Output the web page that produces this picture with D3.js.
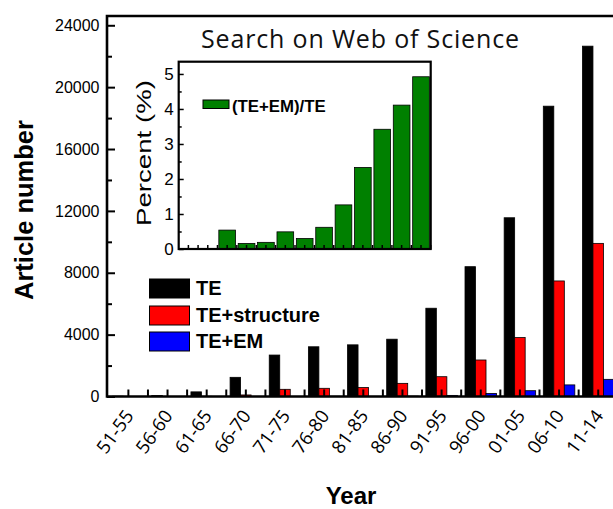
<!DOCTYPE html>
<html><head><meta charset="utf-8">
<script src="https://cdn.jsdelivr.net/npm/d3@7"></script>
<style>html,body{margin:0;padding:0;background:#fff;overflow:hidden}</style>
</head><body>
<svg id="c" width="613" height="509"></svg>
<script>
const categories = ["51-55","56-60","61-65","66-70","71-75","76-80","81-85","86-90","91-95","96-00","01-05","06-10","11-14"];
const seriesNames = ["TE","TE+structure","TE+EM"];
const seriesColors = ["#000000","#ff0000","#0000ff"];
const teValues = [20, 60, 300, 1240, 2680, 3215, 3340, 3705, 5707, 8393, 11556, 18770, 22650];
const structureValues = [0, 5, 12, 100, 465, 530, 580, 850, 1280, 2360, 3810, 7470, 9900];
const emValues = [0, 0, 0, 3, 5, 16, 10, 23, 72, 200, 375, 750, 1110];
const percentValues = [0, 0, 0.54, 0.16, 0.19, 0.49, 0.30, 0.62, 1.26, 2.33, 3.42, 4.11, 4.92];
const yTicks = [0, 4000, 8000, 12000, 16000, 20000, 24000];
const yMinorTicks = [2000, 6000, 10000, 14000, 18000, 22000];
const insetTicks = [0, 1, 2, 3, 4, 5];
const insetMinorTicks = [0.5, 1.5, 2.5, 3.5, 4.5];

const svg = d3.select("#c");
const series = [teValues, structureValues, emValues];

// ---------- main chart ----------
const L = 107, B = 396.5, T = 16, R = 617.8;
const x = d3.scaleBand().domain(categories).range([108.8, R]).paddingInner(0.195).paddingOuter(0.0977);
const xs = d3.scaleBand().domain(seriesNames).range([0, x.bandwidth()]);
const y = d3.scaleLinear().domain([0, 24600]).range([B, T]);

const groups = svg.append("g").selectAll("g").data(categories).join("g")
  .attr("transform", d => `translate(${x(d)},0)`);
groups.selectAll("rect").data((d, i) => series.map((s, k) => ({k, v: s[i]}))).join("rect")
  .attr("x", d => xs(seriesNames[d.k]))
  .attr("width", xs.bandwidth())
  .attr("y", d => y(d.v))
  .attr("height", d => B - y(d.v))
  .attr("fill", d => seriesColors[d.k])
  .attr("stroke", "#000").attr("stroke-width", 0.8);

// x ticks (centers + boundaries), inward
const xTickPos = [];
categories.forEach(c => {
  const cx = x(c) + x.bandwidth() / 2;
  xTickPos.push(cx, cx + x.step() / 2);
});
svg.append("g").selectAll("line").data(xTickPos).join("line")
  .attr("x1", d => d).attr("x2", d => d).attr("y1", B).attr("y2", B - 7)
  .attr("stroke", "#000").attr("stroke-width", 2);

// y axis
const yAxis = svg.append("g").attr("transform", `translate(${L},0)`)
  .call(d3.axisLeft(y).tickValues(yTicks).tickSizeInner(-8).tickSizeOuter(0).tickPadding(7.5).tickFormat(d3.format("d")));
yAxis.select(".domain").remove();
yAxis.selectAll(".tick line").attr("stroke-width", 2);
yAxis.selectAll("text").attr("font-family", "Liberation Sans, Arial").attr("font-size", 16).attr("fill", "#000");
const yMinor = svg.append("g").attr("transform", `translate(${L},0)`)
  .call(d3.axisLeft(y).tickValues(yMinorTicks).tickSizeInner(-5).tickSizeOuter(0).tickFormat(""));
yMinor.select(".domain").remove();
yMinor.selectAll(".tick line").attr("stroke-width", 2);

// frame
svg.append("path").attr("d", `M${R + 5},${B} H${L} V${T} H${R + 5}`)
  .attr("fill", "none").attr("stroke", "#000").attr("stroke-width", 2.6);

// x labels
svg.append("g").selectAll("text").data(categories).join("text")
  .attr("transform", d => `translate(${x(d) + x.bandwidth() / 2 + 6},${416}) rotate(-54)`)
  .attr("text-anchor", "end")
  .attr("font-family", "Open Sans, sans-serif").attr("font-size", 18.5).attr("fill", "#000")
  .text(d => d);

// axis titles
svg.append("text").attr("transform", `translate(33,210) rotate(-90)`)
  .attr("text-anchor", "middle").attr("font-family", "Liberation Sans, Arial").attr("font-weight", "bold")
  .attr("font-size", 25.5).text("Article number");
svg.append("text").attr("x", 351).attr("y", 504)
  .attr("text-anchor", "middle").attr("font-family", "Liberation Sans, Arial").attr("font-weight", "bold")
  .attr("font-size", 24).text("Year");

// legend
const leg = svg.append("g");
seriesNames.forEach((n, k) => {
  const top = [279, 306, 332][k];
  leg.append("rect").attr("x", 149.5).attr("y", top).attr("width", 40).attr("height", 19)
    .attr("fill", seriesColors[k]).attr("stroke", "#000").attr("stroke-width", 1);
  leg.append("text").attr("x", 196).attr("y", top + 16)
    .attr("font-family", "Liberation Sans, Arial").attr("font-weight", "bold").attr("font-size", 20)
    .text(n);
});

// title
svg.append("text").attr("x", 360).attr("y", 48).attr("text-anchor", "middle")
  .attr("font-family", "Open Sans, sans-serif").attr("font-size", 25).attr("fill", "#111")
  .attr("textLength", 318).attr("lengthAdjust", "spacing")
  .text("Search on Web of Science");

// ---------- inset ----------
const iL = 178.7, iR = 430.7, iB = 249, iT = 61.7;
const ix = d3.scaleBand().domain(categories).range([iL, iR]).paddingInner(0.14).paddingOuter(0.07);
const iy = d3.scaleLinear().domain([0, 5.33]).range([iB, iT + 0.7]);

svg.append("g").selectAll("rect").data(categories).join("rect")
  .attr("x", d => ix(d)).attr("width", ix.bandwidth())
  .attr("y", (d, i) => iy(percentValues[i]))
  .attr("height", (d, i) => iB - iy(percentValues[i]))
  .attr("fill", "#008000").attr("stroke", "#000").attr("stroke-width", 0.8);

const ixTicks = [];
categories.forEach(c => {
  const cx = ix(c) + ix.bandwidth() / 2;
  ixTicks.push(cx, cx + ix.step() / 2);
});
svg.append("g").selectAll("line").data(ixTicks).join("line")
  .attr("x1", d => d).attr("x2", d => d).attr("y1", iB).attr("y2", iB - 4)
  .attr("stroke", "#000").attr("stroke-width", 1.5);

const iyAxis = svg.append("g").attr("transform", `translate(${iL},0)`)
  .call(d3.axisLeft(iy).tickValues(insetTicks).tickSizeInner(-5).tickSizeOuter(0).tickPadding(5).tickFormat(d3.format("d")));
iyAxis.select(".domain").remove();
iyAxis.selectAll(".tick line").attr("stroke-width", 1.5);
iyAxis.selectAll("text").attr("font-family", "Liberation Sans, Arial").attr("font-size", 17).attr("fill", "#000");
const iyMinor = svg.append("g").attr("transform", `translate(${iL},0)`)
  .call(d3.axisLeft(iy).tickValues(insetMinorTicks).tickSizeInner(-3).tickSizeOuter(0).tickFormat(""));
iyMinor.select(".domain").remove();
iyMinor.selectAll(".tick line").attr("stroke-width", 1.5);

svg.append("rect").attr("x", iL).attr("y", iT).attr("width", iR - iL).attr("height", iB - iT)
  .attr("fill", "none").attr("stroke", "#000").attr("stroke-width", 2.2);

svg.append("text").attr("transform", `translate(151,153) rotate(-90)`)
  .attr("text-anchor", "middle").attr("font-family", "Liberation Sans, Arial")
  .attr("font-size", 21).attr("textLength", 146).attr("lengthAdjust", "spacingAndGlyphs")
  .text("Percent (%)");

svg.append("rect").attr("x", 203).attr("y", 100).attr("width", 26).attr("height", 8.5)
  .attr("fill", "#008000").attr("stroke", "#000").attr("stroke-width", 1);
svg.append("text").attr("x", 232).attr("y", 111.5)
  .attr("font-family", "Liberation Sans, Arial").attr("font-weight", "bold").attr("font-size", 16.8)
  .text("(TE+EM)/TE");
</script>
</body></html>
